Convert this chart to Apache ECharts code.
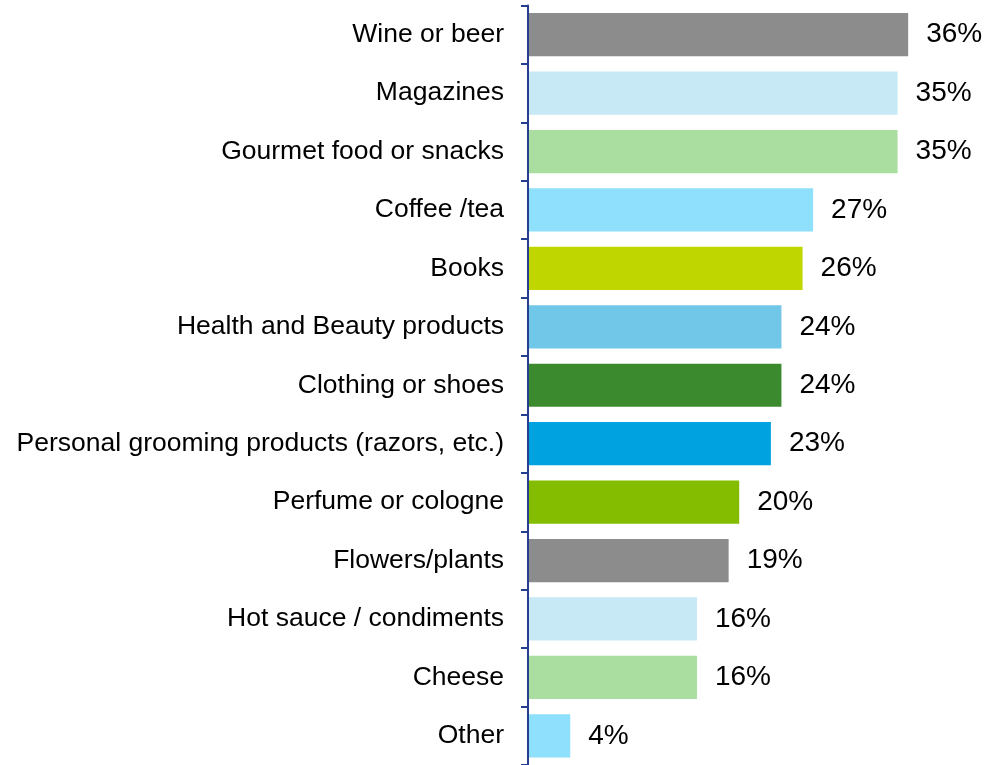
<!DOCTYPE html>
<html><head><meta charset="utf-8">
<script src="https://cdn.jsdelivr.net/npm/echarts@6/dist/echarts.min.js"></script>
<style>html,body{margin:0;padding:0;background:#fff}#c{width:996px;height:765px}</style>
</head><body><div id="c"></div>
<script>
const categories = ["Wine or beer","Magazines","Gourmet food or snacks","Coffee /tea","Books","Health and Beauty products","Clothing or shoes","Personal grooming products (razors, etc.)","Perfume or cologne","Flowers/plants","Hot sauce / condiments","Cheese","Other"];
const values = [36,35,35,27,26,24,24,23,20,19,16,16,4];
const colors = ["#8c8c8c","#c6e9f5","#a9dea0","#8ee0fc","#bfd600","#71c7e7","#3c8a2e","#00a2df","#84bd00","#8c8c8c","#c6e9f5","#a9dea0","#8ee0fc"];
const chart = echarts.init(document.getElementById('c'));
chart.setOption({
  animation:false,
  grid:{left:528,top:5.5,width:422.4,height:764},
  xAxis:{type:'value',min:0,max:40,show:false},
  yAxis:{type:'category',inverse:true,data:categories,z:5,
    axisLine:{lineStyle:{color:'#233f8e',width:2}},
    axisTick:{show:true,length:7,lineStyle:{color:'#233f8e',width:2}},
    axisLabel:{color:'#000',fontFamily:'Liberation Sans',fontSize:26.5,margin:24}},
  series:[{type:'bar',barCategoryGap:'26%',
    data:values.map((v,i)=>({value:v,itemStyle:{color:colors[i]}})),
    label:{show:true,position:'right',distance:18,formatter:'{c}%',color:'#000',fontFamily:'Liberation Sans',fontSize:28}}]
});
</script></body></html>
